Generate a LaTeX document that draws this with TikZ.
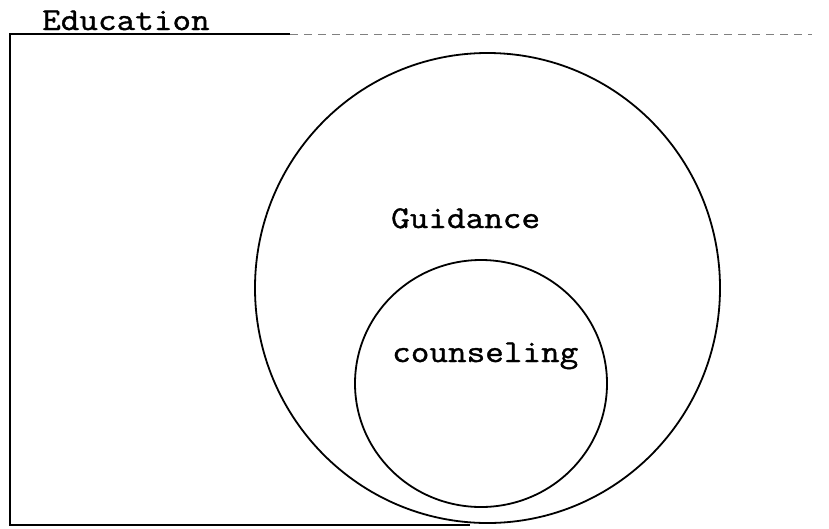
\documentclass[tikz,border=0pt]{standalone}
\usepackage{fontspec}
\newfontfamily\courfont{Latin Modern Mono}[FakeStretch=1.14, FakeBold=1.2]
\usetikzlibrary{shapes.geometric}
\begin{document}
\begin{tikzpicture}[x=1pt,y=-1pt,
  ring/.style={draw, ellipse, line width=1.8pt, inner sep=0pt},
  lbl/.style={anchor=base west, inner sep=0pt, font=\fontsize{31.7}{34}\courfont},
  frame/.style={line width=1.6pt}]
\useasboundingbox (0,0) rectangle (829,528);
\node[ring, minimum width=465pt, minimum height=470pt] (guid) at (487.5,288) {};
\node[ring, minimum width=252pt, minimum height=247pt] (couns) at (481,383.5) {};
\node[lbl] (edu) at (42,30) {Education};
\node[lbl] (gtxt) at (391,228) {Guidance};
\node[lbl] (ctxt) at (392,362) {counseling};
\coordinate (tl) at (10,34);
\coordinate (tr) at (290,34);
\coordinate (tfar) at (812,34);
\coordinate (bl) at (10,525);
\coordinate (bm) at (470,525);
\draw[frame] (tr) -- (tl) -- (bl) -- (bm);
\draw[line width=0.8pt, gray, dashed, dash pattern=on 8pt off 6pt] (tr) -- (tfar);
\end{tikzpicture}
\end{document}
